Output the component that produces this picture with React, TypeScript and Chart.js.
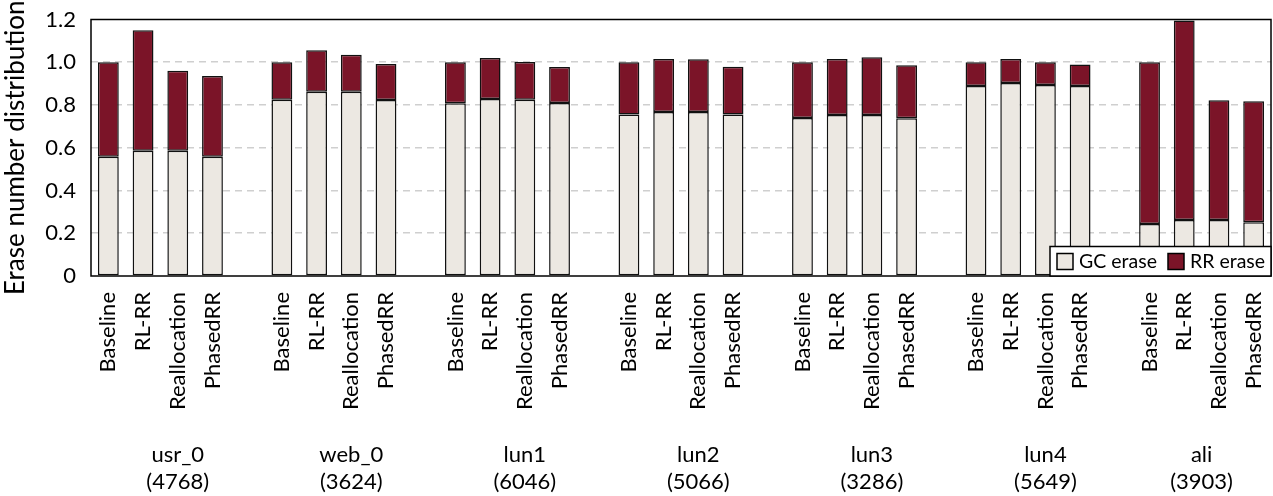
import React, { useEffect, useRef } from 'react';
import { Chart, registerables } from 'chart.js';

Chart.register(...registerables);

const groups = ['usr_0', 'web_0', 'lun1', 'lun2', 'lun3', 'lun4', 'ali'];
const groupCounts = ['(4768)', '(3624)', '(6046)', '(5066)', '(3286)', '(5649)', '(3903)'];
const methods = ['Baseline', 'RL-RR', 'Reallocation', 'PhasedRR'];

// GC erase share per group (Baseline, RL-RR, Reallocation, PhasedRR)
const gcErase = [
  [0.558, 0.586, 0.586, 0.558],
  [0.825, 0.862, 0.862, 0.823],
  [0.808, 0.828, 0.825, 0.809],
  [0.755, 0.767, 0.767, 0.756],
  [0.739, 0.753, 0.753, 0.738],
  [0.889, 0.903, 0.894, 0.889],
  [0.243, 0.262, 0.262, 0.251],
];
// RR erase share per group
const rrErase = [
  [0.442, 0.564, 0.374, 0.378],
  [0.175, 0.194, 0.173, 0.169],
  [0.192, 0.192, 0.176, 0.169],
  [0.245, 0.248, 0.247, 0.223],
  [0.261, 0.262, 0.270, 0.248],
  [0.111, 0.112, 0.106, 0.100],
  [0.757, 0.933, 0.560, 0.566],
];
const yTicks = [0, 0.2, 0.4, 0.6, 0.8, 1.0, 1.2];

const GC_COLOR = '#ece8e2';
const RR_COLOR = '#7b1428';
const FONT = 'Lato';

export default function App() {
  const ref = useRef<HTMLCanvasElement>(null);
  useEffect(() => {
    document.body.style.margin = '0';
    const labels: string[] = [];
    const gcData: (number | null)[] = [];
    const rrData: (number | null)[] = [];
    const groupSpan: number[][] = [];
    groups.forEach((g, gi) => {
      const start = labels.length;
      methods.forEach((m, mi) => {
        labels.push(m);
        gcData.push(gcErase[gi][mi]);
        rrData.push(rrErase[gi][mi]);
      });
      if (gi < groups.length - 1) {
        labels.push('');
        gcData.push(null);
        rrData.push(null);
      }
      groupSpan.push([start, labels.length - 1]);
    });

    const overlay = {
      id: 'overlay',
      afterDraw(chart: any) {
        const ctx = chart.ctx;
        const a = chart.chartArea;
        const x = chart.scales.x;
        const half = (x.getPixelForValue(1) - x.getPixelForValue(0)) / 2;
        ctx.save();
        // plot border
        ctx.strokeStyle = '#000';
        ctx.lineWidth = 1.5;
        ctx.strokeRect(a.left, a.top, a.right - a.left, a.bottom - a.top);
        // group labels
        ctx.fillStyle = '#000';
        ctx.font = `22px ${FONT}`;
        ctx.textAlign = 'center';
        ctx.textBaseline = 'alphabetic';
        groups.forEach((g, gi) => {
          const [s, e] = groupSpan[gi];
          const cx = (x.getPixelForValue(s) - half + x.getPixelForValue(e) + half) / 2;
          ctx.fillText(g, cx, 462);
          ctx.fillText(groupCounts[gi], cx, 489);
        });
        // legend
        const lx = 1050, lh = 29.5, ly = a.bottom - lh, lw = a.right - 1050;
        ctx.fillStyle = '#fff';
        ctx.fillRect(lx, ly, lw, lh);
        ctx.strokeStyle = '#000';
        ctx.lineWidth = 1.5;
        ctx.strokeRect(lx, ly, lw, lh);
        const items = [
          { label: 'GC erase', color: GC_COLOR, sx: 1057, tx: 1079 },
          { label: 'RR erase', color: RR_COLOR, sx: 1168, tx: 1190 },
        ];
        ctx.font = `19.5px ${FONT}`;
        ctx.textAlign = 'left';
        ctx.textBaseline = 'middle';
        items.forEach((it) => {
          ctx.fillStyle = it.color;
          ctx.fillRect(it.sx, ly + 7, 16, 16);
          ctx.strokeRect(it.sx, ly + 7, 16, 16);
          ctx.fillStyle = '#000';
          ctx.fillText(it.label, it.tx, ly + 15.5);
        });
        ctx.restore();
      },
    };

    const chart = new Chart(ref.current!, {
      type: 'bar',
      data: {
        labels,
        datasets: [
          {
            label: 'GC erase',
            data: gcData,
            backgroundColor: GC_COLOR,
            borderColor: '#111',
            borderWidth: 1.5,
            borderSkipped: false,
          },
          {
            label: 'RR erase',
            data: rrData,
            backgroundColor: RR_COLOR,
            borderColor: '#111',
            borderWidth: 1.5,
            borderSkipped: false,
          },
        ],
      },
      options: {
        responsive: false,
        animation: false,
        layout: { padding: { left: 0, top: 19.5, right: 2, bottom: 0 } },
        datasets: { bar: { categoryPercentage: 1, barPercentage: 0.6 } },
        plugins: { legend: { display: false }, tooltip: { enabled: false } },
        scales: {
          x: {
            stacked: true,
            grid: { display: false, drawTicks: false },
            border: { display: false },
            ticks: {
              autoSkip: false,
              minRotation: 90,
              maxRotation: 90,
              padding: 16,
              color: '#000',
              font: { family: FONT, size: 22 },
            },
            afterFit: (s: any) => { s.height = 220; s.paddingLeft = 0; s.paddingRight = 0; },
          },
          y: {
            stacked: true,
            min: 0,
            max: 1.2,
            afterBuildTicks: (s: any) => { s.ticks = yTicks.map((v) => ({ value: v })); },
            grid: {
              drawTicks: false,
              color: (c: any) => (c.tick && (c.tick.value === 0 || c.tick.value >= 1.2) ? 'rgba(0,0,0,0)' : '#cfcfcf'),
              lineWidth: 1.5,
            },
            border: { display: false, dash: [7, 5] },
            ticks: {
              padding: 15,
              color: '#000',
              font: { family: FONT, size: 22 },
              callback: (v: any) => (v === 0 ? '0' : Number(v).toFixed(1)),
            },
            title: {
              display: true,
              text: 'Erase number distribution',
              color: '#000',
              font: { family: FONT, size: 26 },
              padding: { top: 0, bottom: 0 },
            },
            afterFit: (s: any) => { s.width = 91; s.paddingTop = 0; s.paddingBottom = 0; },
          },
        },
      },
      plugins: [overlay],
    });
    return () => chart.destroy();
  }, []);
  return (
    <div style={{ width: 1273, height: 496 }}>
      <canvas ref={ref} width={1273} height={496} style={{ display: 'block' }} />
    </div>
  );
}
